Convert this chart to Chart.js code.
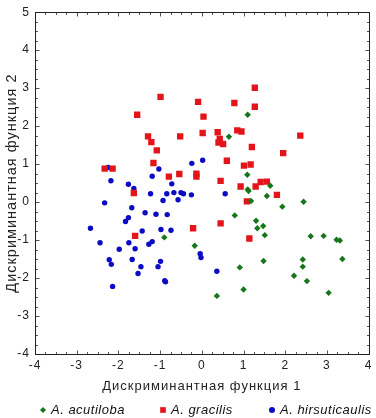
<!DOCTYPE html>
<html>
<head>
<meta charset="utf-8">
<script src="https://cdn.jsdelivr.net/npm/chart.js@4.4.1/dist/chart.umd.min.js"></script>
<style>
  html, body { margin: 0; padding: 0; background: #fff; }
  canvas { display: block; }
</style>
</head>
<body>
<canvas id="chart" width="376" height="418"></canvas>
<script>
// species names (legend) and axis titles
const speciesNames = ['A. acutiloba', 'A. gracilis', 'A. hirsuticaulis'];
const xTitle = 'Дискриминантная функция 1';
const yTitle = 'Дискриминантная функция 2';
const xTicks = [-4, -3, -2, -1, 0, 1, 2, 3, 4];
const yTicks = [-4, -3, -2, -1, 0, 1, 2, 3, 4, 5];

// A. acutiloba
const acutilobaX = [1.10, 0.65, 1.09, 1.10, 1.12, 1.64, 1.56, 1.18, 2.44, 1.93,
  0.79, 1.30, 1.33, 1.47, 1.51, 2.61, 2.92, 3.23, 3.31, -0.17,
  -0.90, 1.48, 2.42, 3.37, 0.91, 2.42, 2.21, 2.52, 1.00, 0.36, 3.04];
const acutilobaY = [2.30, 1.72, 0.72, 0.33, 0.29, 0.43, 0.16, 0.03, 0.01, -0.12,
  -0.35, -0.49, -0.69, -0.63, -0.87, -0.90, -0.89, -0.99, -1.01, -1.15,
  -0.93, -1.55, -1.51, -1.50, -1.72, -1.70, -1.94, -2.08, -2.30, -2.47, -2.39];

// A. gracilis
const gracilisX = [-0.99, -0.09, -1.55, 0.04, -1.29, -0.52, 0.02, 0.38, -1.21, -1.08,
  -1.16, -2.33, -2.14, -0.79, -0.54, -0.13, -0.13, -1.63, -0.21, -1.60,
  1.27, 0.78, 1.27, 2.36, 0.85, 0.95, 0.43, 0.40, 0.51, 1.20,
  1.95, 0.60, 1.01, 1.17, 0.45, 0.93, 1.29, 1.41, 1.56, 1.80,
  1.08, 0.45, 1.14];
const gracilisY = [2.77, 2.64, 2.30, 2.25, 1.73, 1.73, 1.82, 1.84, 1.58, 1.36,
  1.03, 0.88, 0.88, 0.67, 0.74, 0.75, 0.67, 0.24, -0.69, -0.89,
  3.01, 2.61, 2.51, 1.75, 1.89, 1.86, 1.66, 1.57, 1.53, 1.45,
  1.29, 1.09, 0.96, 0.99, 0.56, 0.41, 0.41, 0.53, 0.54, 0.19,
  0.02, -0.56, -0.96];

// A. hirsuticaulis
const hirsuticaulisX = [0.02, -0.24, -1.03, -2.25, -1.19, -2.18, -0.72, -1.76, -1.63, -1.23,
  -0.84, -0.67, -0.50, -0.44, -0.25, -0.93, -0.57, -2.33, -1.68, -1.36,
  -1.10, -0.83, -1.76, -1.83, -2.67, -1.43, -0.98, -0.74, -2.44, -1.75,
  -1.27, -1.19, -1.98, -1.60, -0.04, -0.02, -2.22, -2.17, -1.67, -0.99,
  -1.46, -1.05, -1.53, 0.36, -0.89, -0.87, -2.14, 0.56];
const hirsuticaulisY = [1.10, 1.02, 0.87, 0.91, 0.68, 0.56, 0.48, 0.47, 0.36, 0.22,
  0.22, 0.25, 0.25, 0.22, 0.19, 0.04, 0.06, -0.02, -0.15, -0.28,
  -0.32, -0.33, -0.41, -0.51, -0.69, -0.76, -0.72, -0.74, -1.07, -1.07,
  -1.11, -1.04, -1.24, -1.23, -1.36, -1.46, -1.52, -1.64, -1.51, -1.56,
  -1.70, -1.70, -1.88, -1.82, -2.07, -2.10, -2.22, 0.22];

const toPoints = (xs, ys) => xs.map((x, i) => ({ x: x, y: ys[i] }));

const FONT = 'Arial, "Liberation Sans", sans-serif';

const styles = [
  { color: '#15761a', pointStyle: 'rectRot', radius: 3.2 },
  { color: '#e3141a', pointStyle: 'rect', radius: 4.5 },
  { color: '#0b0bc4', pointStyle: 'circle', radius: 2.7 }
];

// letter spacing for axis text, reset before the points
const spacing = {
  id: 'spacing',
  beforeDraw(chart) { chart.ctx.letterSpacing = '1px'; },
  beforeDatasetsDraw(chart) { chart.ctx.letterSpacing = '0px'; }
};

// frame with inward major/minor ticks on all four sides
const frameTicks = {
  id: 'frameTicks',
  beforeDatasetsDraw(chart) {
    const { ctx, chartArea: a, scales: { x, y } } = chart;
    const L = Math.round(a.left) + 0.5, R = Math.round(a.right) + 0.5;
    const T = Math.round(a.top) + 0.5, B = Math.round(a.bottom) + 0.5;
    ctx.save();
    ctx.strokeStyle = '#555';
    ctx.lineWidth = 1;
    ctx.beginPath();
    for (let i = 0; i <= (x.max - x.min) * 4; i++) {
      const px = Math.round(x.getPixelForValue(x.min + i / 4)) + 0.5;
      const len = i % 4 === 0 ? 4 : 2.5;
      ctx.moveTo(px, B); ctx.lineTo(px, B - len);
      ctx.moveTo(px, T); ctx.lineTo(px, T + len);
    }
    for (let i = 0; i <= (y.max - y.min) * 4; i++) {
      const py = Math.round(y.getPixelForValue(y.min + i / 4)) + 0.5;
      const len = i % 4 === 0 ? 4 : 2.5;
      ctx.moveTo(L, py); ctx.lineTo(L + len, py);
      ctx.moveTo(R, py); ctx.lineTo(R - len, py);
    }
    ctx.stroke();
    ctx.strokeStyle = '#222';
    ctx.strokeRect(L, T, R - L, B - T);
    ctx.restore();
  }
};

// legend row under the x axis title
const legendRow = {
  id: 'legendRow',
  afterDraw(chart) {
    const ctx = chart.ctx;
    const itemX = [43, 163, 272];
    const rowY = 410;
    ctx.save();
    ctx.letterSpacing = '0.5px';
    ctx.font = 'italic 13px ' + FONT;
    ctx.textBaseline = 'middle';
    chart.data.datasets.forEach((ds, i) => {
      ctx.fillStyle = ds.backgroundColor;
      ctx.strokeStyle = ds.backgroundColor;
      Chart.helpers.drawPoint(ctx, {
        pointStyle: ds.pointStyle,
        radius: ds.pointStyle === 'rect' ? 4 : 3,
        rotation: 0,
        borderWidth: 0
      }, itemX[i], rowY);
      ctx.fillStyle = '#111';
      ctx.fillText(ds.label, itemX[i] + 8, rowY);
    });
    ctx.restore();
  }
};

const datasets = [
  toPoints(acutilobaX, acutilobaY),
  toPoints(gracilisX, gracilisY),
  toPoints(hirsuticaulisX, hirsuticaulisY)
].map((pts, i) => ({
  label: speciesNames[i],
  data: pts,
  backgroundColor: styles[i].color,
  borderColor: styles[i].color,
  borderWidth: 0,
  pointStyle: styles[i].pointStyle,
  pointRadius: styles[i].radius
}));

new Chart(document.getElementById('chart'), {
  type: 'scatter',
  data: { datasets: datasets },
  options: {
    responsive: false,
    animation: false,
    events: [],
    layout: { padding: { top: 6, right: 5, left: 0, bottom: 22 } },
    plugins: {
      legend: { display: false },
      tooltip: { enabled: false }
    },
    scales: {
      x: {
        type: 'linear',
        min: -4, max: 4,
        afterFit: s => { s.height = 42; },
        afterBuildTicks: s => { s.ticks = xTicks.map(v => ({ value: v })); },
        grid: { display: false, drawTicks: false },
        border: { display: false },
        ticks: { padding: 4, color: '#222', font: { family: FONT, size: 12 } },
        title: {
          display: true, text: xTitle, color: '#222',
          font: { family: FONT, size: 13 }, padding: { top: 0, bottom: 2 }
        }
      },
      y: {
        type: 'linear',
        min: -4, max: 5,
        afterFit: s => { s.width = 35; },
        afterBuildTicks: s => { s.ticks = yTicks.map(v => ({ value: v })); },
        grid: { display: false, drawTicks: false },
        border: { display: false },
        ticks: { padding: 5, color: '#222', font: { family: FONT, size: 12 } },
        title: {
          display: true, text: yTitle, color: '#222',
          font: { family: FONT, size: 14.5 }, padding: { top: 3, bottom: 0 }
        }
      }
    }
  },
  plugins: [spacing, frameTicks, legendRow]
});
</script>
</body>
</html>
